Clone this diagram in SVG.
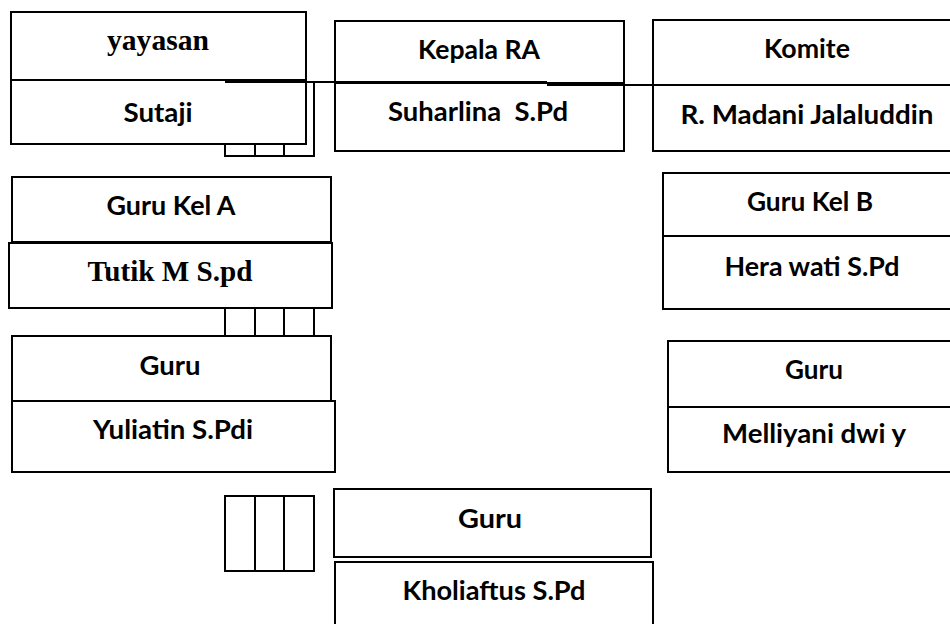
<svg xmlns="http://www.w3.org/2000/svg" width="950" height="624" viewBox="0 0 950 624">
<style>
.box{fill:#fff;stroke:#000;stroke-width:2}
.ln{fill:none;stroke:#000;stroke-width:2}
.t{font-family:Lato,"Open Sans","DejaVu Sans",sans-serif;font-weight:bold;font-size:26px;fill:#000;text-anchor:middle}
.s{font-family:"Liberation Serif","Times New Roman",serif;font-weight:bold;font-size:29px;fill:#000;text-anchor:middle}
</style>
<rect width="950" height="624" fill="#fff"/>
<g id="yayasan">
<rect class="box" x="11" y="12" width="295" height="68"/>
<rect class="box" x="11" y="80" width="295" height="64"/>
<text class="s" x="158" y="50" textLength="102" lengthAdjust="spacingAndGlyphs">yayasan</text>
<text class="t" x="158" y="122" textLength="69" lengthAdjust="spacingAndGlyphs">Sutaji</text>
</g>
<g id="kepala">
<rect class="box" x="335" y="21" width="289" height="62"/>
<rect class="box" x="335" y="83" width="289" height="68"/>
<text class="t" x="479" y="59" textLength="122" lengthAdjust="spacingAndGlyphs">Kepala RA</text>
<text class="t" x="478" y="121" textLength="180" lengthAdjust="spacingAndGlyphs" xml:space="preserve">Suharlina  S.Pd</text>
</g>
<g id="komite">
<rect class="box" x="653" y="20" width="310" height="65"/>
<rect class="box" x="653" y="85" width="310" height="66"/>
<text class="t" x="807" y="58" textLength="86" lengthAdjust="spacingAndGlyphs">Komite</text>
<text class="t" x="807" y="124" textLength="253" lengthAdjust="spacingAndGlyphs">R. Madani Jalaluddin</text>
</g>
<g id="guru-kel-a">
<rect class="box" x="12" y="177" width="319" height="65"/>
<rect class="box" x="9" y="243" width="323" height="65"/>
<text class="t" x="171" y="215" textLength="129" lengthAdjust="spacingAndGlyphs">Guru Kel A</text>
<text class="s" x="170" y="281" textLength="165" lengthAdjust="spacingAndGlyphs">Tutik M S.pd</text>
</g>
<g id="guru-yuliatin">
<rect class="box" x="12" y="401" width="323" height="71"/>
<rect class="box" x="12" y="336" width="319" height="65"/>
<text class="t" x="170" y="375" textLength="61" lengthAdjust="spacingAndGlyphs">Guru</text>
<text class="t" x="173" y="439" textLength="160" lengthAdjust="spacingAndGlyphs">Yuliatin S.Pdi</text>
</g>
<g id="guru-kel-b">
<rect class="box" x="663" y="173" width="300" height="63"/>
<rect class="box" x="663" y="236" width="300" height="73"/>
<text class="t" x="810" y="211" textLength="126" lengthAdjust="spacingAndGlyphs">Guru Kel B</text>
<text class="t" x="812" y="276" textLength="175" lengthAdjust="spacingAndGlyphs">Hera wati S.Pd</text>
</g>
<g id="guru-melliyani">
<rect class="box" x="668" y="341" width="300" height="66"/>
<rect class="box" x="668" y="407" width="300" height="65"/>
<text class="t" x="814" y="379" textLength="58" lengthAdjust="spacingAndGlyphs">Guru</text>
<text class="t" x="814" y="443" textLength="184" lengthAdjust="spacingAndGlyphs">Melliyani dwi y</text>
</g>
<g id="guru-kholiaftus">
<rect class="box" x="334" y="489" width="317" height="68"/>
<rect class="box" x="335" y="562" width="318" height="80"/>
<text class="t" x="490" y="528" textLength="64" lengthAdjust="spacingAndGlyphs">Guru</text>
<text class="t" x="494" y="600" textLength="183" lengthAdjust="spacingAndGlyphs">Kholiaftus S.Pd</text>
</g>
<g id="connectors">
<line class="ln" x1="225" y1="82" x2="547" y2="82"/>
<line class="ln" x1="547" y1="85" x2="653" y2="85"/>
<path class="ln" d="M225,144 V156 H314 V82"/>
<path class="ln" d="M255,144 V156 M284,144 V156"/>
<path class="ln" d="M225,308 V336 M255,308 V336 M284,308 V336 M314,308 V336"/>
<rect class="ln" x="225" y="496" width="89" height="75"/>
<path class="ln" d="M255,496 V571 M284,496 V571"/>
</g>
</svg>
